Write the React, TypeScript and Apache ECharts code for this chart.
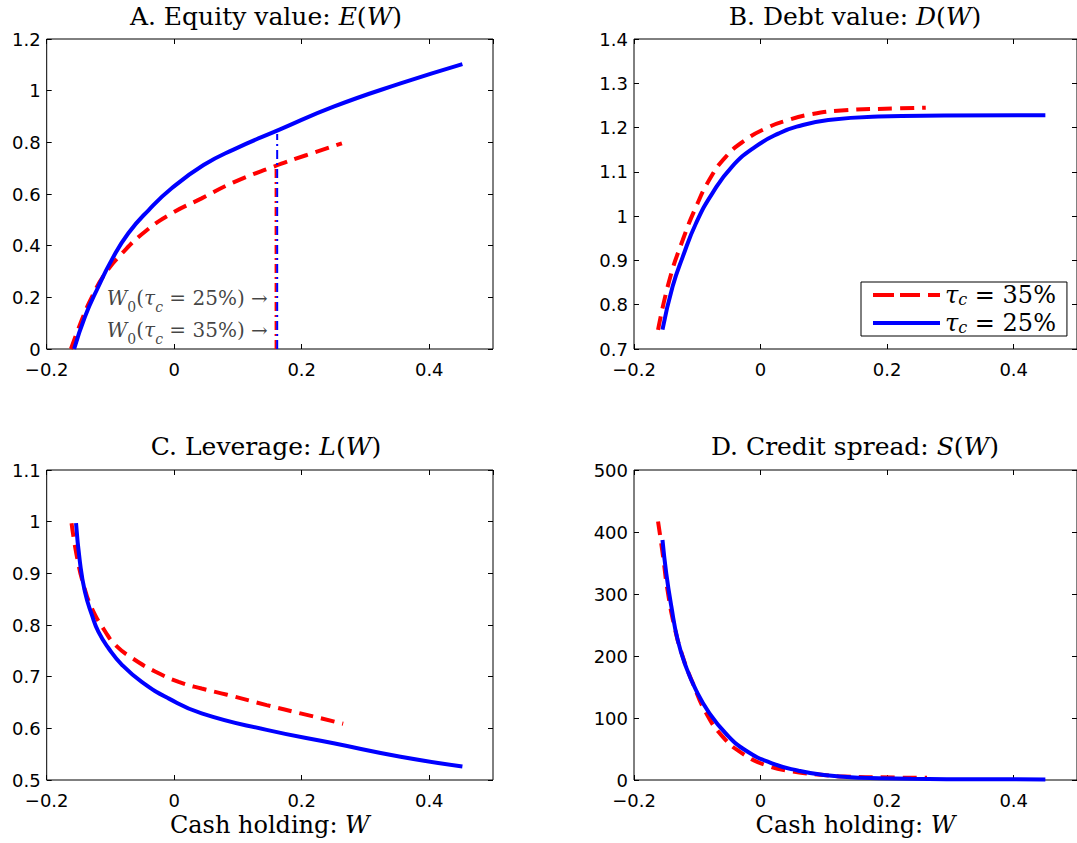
import React, { useEffect, useRef } from "react";
import * as echarts from "echarts";

// ---------- data ----------
// Panel A: equity value E(W)
const A_W_25 = [-0.157, -0.14, -0.119, -0.098, -0.072, -0.04, -0.004, 0.046, 0.093, 0.166, 0.25, 0.355, 0.452];
const A_E_25 = [0, 0.125, 0.241, 0.345, 0.448, 0.538, 0.622, 0.712, 0.772, 0.85, 0.938, 1.028, 1.103];
const A_W_35 = [-0.162, -0.145, -0.129, -0.108, -0.082, -0.046, -0.004, 0.043, 0.093, 0.156, 0.208, 0.263];
const A_E_35 = [0, 0.112, 0.202, 0.293, 0.37, 0.454, 0.525, 0.583, 0.645, 0.706, 0.751, 0.796];
// payout boundaries W0 (vertical dash-dot lines)
const W0_25 = 0.1615;
const W0_25_TOP = 0.832;
const W0_35 = 0.159;
const W0_35_TOP = 0.71;
// annotation anchors (W, E)
const ANNOT_25 = [0.1476, 0.197];
const ANNOT_35 = [0.1476, 0.074];

// Panel B: debt value D(W)
const B_W_25 = [-0.155, -0.139, -0.123, -0.102, -0.076, -0.045, -0.008, 0.029, 0.057, 0.107, 0.186, 0.29, 0.45];
const B_D_25 = [0.744, 0.841, 0.908, 0.984, 1.052, 1.112, 1.157, 1.187, 1.202, 1.217, 1.225, 1.227, 1.228];
const B_W_35 = [-0.162, -0.144, -0.123, -0.102, -0.081, -0.055, -0.024, 0.008, 0.039, 0.08, 0.133, 0.212, 0.261];
const B_D_35 = [0.743, 0.856, 0.946, 1.021, 1.082, 1.134, 1.172, 1.198, 1.215, 1.23, 1.239, 1.243, 1.245];

// Panel C: leverage L(W)
const C_W_25 = [-0.154, -0.148, -0.14, -0.129, -0.119, -0.103, -0.082, -0.051, -0.009, 0.043, 0.145, 0.25, 0.355, 0.452];
const C_L_25 = [0.997, 0.923, 0.864, 0.819, 0.787, 0.755, 0.723, 0.69, 0.658, 0.629, 0.597, 0.571, 0.545, 0.526];
const C_W_35 = [-0.161, -0.153, -0.142, -0.129, -0.108, -0.092, -0.066, -0.03, 0.007, 0.043, 0.083, 0.145, 0.198, 0.265];
const C_L_35 = [0.997, 0.935, 0.877, 0.832, 0.787, 0.761, 0.736, 0.71, 0.69, 0.677, 0.665, 0.645, 0.629, 0.609];

// Panel D: credit spread S(W)
const D_W_25 = [-0.155, -0.149, -0.141, -0.131, -0.118, -0.102, -0.081, -0.055, -0.024, 0.018, 0.06, 0.1, 0.159, 0.238, 0.35, 0.45];
const D_S_25 = [387, 333, 280, 226, 183, 145, 108, 75, 48, 27, 15, 8, 3.7, 2, 1.2, 1];
const D_W_35 = [-0.162, -0.154, -0.147, -0.136, -0.123, -0.107, -0.086, -0.06, -0.029, 0.008, 0.05, 0.1, 0.133, 0.212, 0.263];
const D_S_35 = [417, 360, 306, 247, 199, 156, 108, 70, 43, 24, 14, 8, 5.5, 4, 3.5];

// axes
const X_MIN = -0.2;
const X_MAX = 0.5;
const X_STEP = 0.2;
const Y_AXES = [
  { min: 0, max: 1.2, interval: 0.2 },
  { min: 0.7, max: 1.4, interval: 0.1 },
  { min: 0.5, max: 1.1, interval: 0.1 },
  { min: 0, max: 500, interval: 100 },
];
const TITLES = [
  ["A. Equity value: ", "E"],
  ["B. Debt value: ", "D"],
  ["C. Leverage: ", "L"],
  ["D. Credit spread: ", "S"],
];
const NAME_35 = "τc = 35%";
const NAME_25 = "τc = 25%";

// ---------- layout / style ----------
const SERIF = "DejaVu Serif";
const SANS = "DejaVu Sans";
const RED = "#ff0000";
const BLUE = "#0000ff";
const GRIDS = [
  { left: 46.7, top: 39, width: 446.3, height: 310 },
  { left: 634, top: 39, width: 446, height: 310 },
  { left: 46.7, top: 470, width: 446.3, height: 310 },
  { left: 634, top: 470, width: 446, height: 310 },
];
const TITLE_POS = [
  [266, 16],
  [855, 16],
  [266, 446],
  [855, 446],
];
const ICON_DASH = "path://M0,0h21v4h-21z M27,0h20v4h-20z M55,0h12v4h-12z";
const ICON_SOLID = "path://M0,0h67v4h-67z";

const pairs = (xs: number[], ys: number[]) => xs.map((x, i) => [x, ys[i]]);
const fmt = (v: number) => {
  const r = Math.round(v * 1000) / 1000;
  return String(r).replace("-", "\u2212");
};

export default function App() {
  const ref = useRef<HTMLDivElement>(null);

  useEffect(() => {
    if (!ref.current) return;
    const chart = echarts.init(ref.current, null, { renderer: "svg" });

    const tick = { show: true, inside: true, length: 5, lineStyle: { color: "#000", width: 1 } };
    const noLine = { show: false, onZero: false };

    const xAxis: any[] = [];
    const yAxis: any[] = [];
    GRIDS.forEach((_, i) => {
      const bottomPanel = i >= 2;
      xAxis.push({
        type: "value",
        gridIndex: i,
        position: "bottom",
        min: X_MIN,
        max: X_MAX,
        interval: X_STEP,
        axisLine: noLine,
        axisTick: tick,
        splitLine: { show: false },
        axisLabel: {
          show: true,
          showMaxLabel: false,
          color: "#000",
          fontFamily: SANS,
          fontSize: 18,
          margin: 11,
          formatter: fmt,
        },
        name: bottomPanel ? "{n|Cash holding: }{i|W}" : "",
        nameLocation: "middle",
        nameGap: 33,
        nameTextStyle: {
          color: "#000",
          fontFamily: SERIF,
          fontSize: 24,
          rich: {
            n: { fontFamily: SERIF, fontSize: 24, color: "#000" },
            i: { fontFamily: SERIF, fontSize: 24, fontStyle: "italic", color: "#000" },
          },
        },
      });
      xAxis.push({
        type: "value",
        gridIndex: i,
        position: "top",
        min: X_MIN,
        max: X_MAX,
        interval: X_STEP,
        axisLine: noLine,
        axisTick: tick,
        splitLine: { show: false },
        axisLabel: { show: false },
      });
      const ya = Y_AXES[i];
      yAxis.push({
        type: "value",
        gridIndex: i,
        position: "left",
        min: ya.min,
        max: ya.max,
        interval: ya.interval,
        axisLine: noLine,
        axisTick: tick,
        splitLine: { show: false },
        axisLabel: {
          show: true,
          color: "#000",
          fontFamily: SANS,
          fontSize: 18,
          margin: 6,
          formatter: fmt,
        },
      });
      yAxis.push({
        type: "value",
        gridIndex: i,
        position: "right",
        min: ya.min,
        max: ya.max,
        interval: ya.interval,
        axisLine: noLine,
        axisTick: tick,
        splitLine: { show: false },
        axisLabel: { show: false },
      });
    });

    const redStyle = { color: RED, width: 4, type: [14, 8] as any };
    const blueStyle = { color: BLUE, width: 4, type: "solid" };

    const curve = (name: string, panel: number, data: number[][], style: any) => ({
      type: "line",
      name,
      xAxisIndex: panel * 2,
      yAxisIndex: panel * 2,
      data,
      showSymbol: false,
      symbol: "none",
      smooth: 0.5,
      lineStyle: style,
      itemStyle: { color: style.color },
      silent: true,
      z: style.color === BLUE ? 3 : 2,
    });

    const annotRich = {
      w: { fontFamily: SERIF, fontSize: 20, fontStyle: "italic", color: "#111" },
      t: { fontFamily: SERIF, fontSize: 20, fontStyle: "italic", color: "#111" },
      p: { fontFamily: SERIF, fontSize: 20, color: "#111" },
      s: { fontFamily: SERIF, fontSize: 14, color: "#111", padding: [9, 0, -9, 0] },
      si: { fontFamily: SERIF, fontSize: 14, fontStyle: "italic", color: "#111", padding: [9, 0, -9, 0] },
    };
    const annot = (pt: number[], pct: string) => ({
      type: "scatter",
      xAxisIndex: 0,
      yAxisIndex: 0,
      data: [pt],
      symbolSize: 1,
      itemStyle: { color: "rgba(0,0,0,0)" },
      silent: true,
      z: 5,
      label: {
        show: true,
        position: "left",
        distance: 0,
        color: "#111",
        formatter: `{w|W}{s|0}{p|(}{t|τ}{si|c}{p| = ${pct}%) →}`,
        rich: annotRich,
      },
    });

    const vline = (w: number, top: number, color: string) => ({
      type: "line",
      xAxisIndex: 0,
      yAxisIndex: 0,
      data: [
        [w, 0],
        [w, top],
      ],
      showSymbol: false,
      symbol: "none",
      lineStyle: { color, width: 2, type: [9, 4, 2, 4] },
      silent: true,
      z: 4,
    });

    const series: any[] = [
      curve(NAME_35, 0, pairs(A_W_35, A_E_35), redStyle),
      curve(NAME_25, 0, pairs(A_W_25, A_E_25), blueStyle),
      vline(W0_35, W0_35_TOP, RED),
      vline(W0_25, W0_25_TOP, BLUE),
      annot(ANNOT_25, "25"),
      annot(ANNOT_35, "35"),
      curve(NAME_35, 1, pairs(B_W_35, B_D_35), redStyle),
      curve(NAME_25, 1, pairs(B_W_25, B_D_25), blueStyle),
      curve(NAME_35, 2, pairs(C_W_35, C_L_35), redStyle),
      curve(NAME_25, 2, pairs(C_W_25, C_L_25), blueStyle),
      curve(NAME_35, 3, pairs(D_W_35, D_S_35), redStyle),
      curve(NAME_25, 3, pairs(D_W_25, D_S_25), blueStyle),
    ];

    const titleGraphics = TITLES.map(([txt, sym], i) => ({
      type: "text",
      x: TITLE_POS[i][0],
      y: TITLE_POS[i][1],
      silent: true,
      style: {
        text: `{n|${txt}}{i|${sym}}{n|(}{i|W}{n|)}`,
        align: "center",
        verticalAlign: "middle",
        fill: "#000",
        fontFamily: SERIF,
        fontSize: 25,
        rich: {
          n: { fontFamily: SERIF, fontSize: 25, fill: "#000", color: "#000" },
          i: { fontFamily: SERIF, fontSize: 25, fontStyle: "italic", fill: "#000", color: "#000" },
        },
      },
    }));

    const option: any = {
      animation: false,
      backgroundColor: "#fff",
      grid: GRIDS.map((g) => ({
        ...g,
        show: true,
        borderColor: "#000",
        borderWidth: 1,
        backgroundColor: "transparent",
        containLabel: false,
      })),
      xAxis,
      yAxis,
      legend: {
        data: [
          { name: NAME_35, icon: ICON_DASH },
          { name: NAME_25, icon: ICON_SOLID },
        ],
        orient: "vertical",
        left: 861,
        top: 282,
        itemWidth: 67,
        itemHeight: 4,
        itemGap: 4,
        padding: [1, 11, 1, 12],
        borderColor: "#000",
        borderWidth: 1,
        backgroundColor: "#fff",
        selectedMode: false,
        formatter: (name: string) =>
          name === NAME_35 ? "{t|τ}{s|c}{n| = 35%}" : "{t|τ}{s|c}{n| = 25%}",
        textStyle: {
          color: "#000",
          fontFamily: SERIF,
          fontSize: 24,
          rich: {
            t: { fontFamily: SERIF, fontSize: 24, fontStyle: "italic", color: "#000" },
            n: { fontFamily: SERIF, fontSize: 24, color: "#000" },
            s: { fontFamily: SERIF, fontSize: 16, fontStyle: "italic", color: "#000", verticalAlign: "bottom" },
          },
        },
      },
      graphic: titleGraphics,
      series,
    };

    chart.setOption(option);
    return () => chart.dispose();
  }, []);

  return (
    <div
      ref={ref}
      style={{ position: "fixed", left: 0, top: 0, width: 1077, height: 843, background: "#fff" }}
    />
  );
}
